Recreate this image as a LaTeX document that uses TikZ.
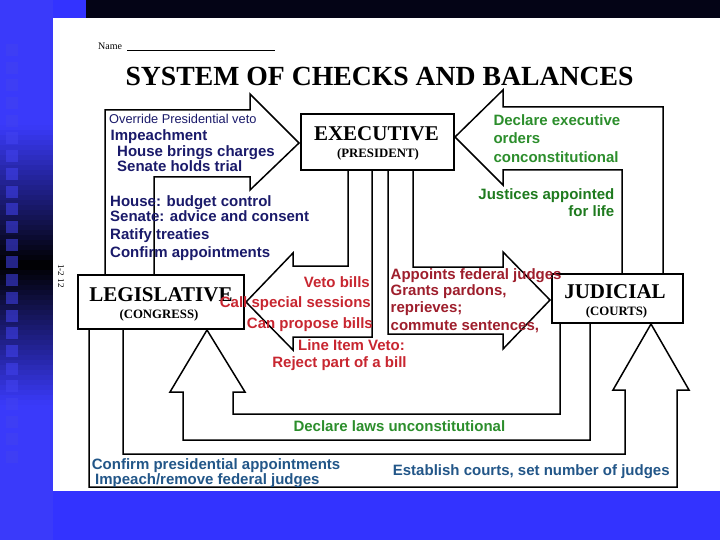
\documentclass[tikz,border=0pt]{standalone}
\usepackage{fontspec}
\setmainfont{Liberation Serif}
\newfontfamily\arialfont{Liberation Sans}
\usetikzlibrary{calc}

\definecolor{slideblue}{RGB}{51,51,255}
\definecolor{stripblue}{RGB}{58,58,250}
\definecolor{squareblue}{RGB}{66,66,240}
\definecolor{topband}{RGB}{4,4,22}
\definecolor{navytxt}{RGB}{26,26,106}
\definecolor{vetored}{RGB}{200,38,48}
\definecolor{pardonred}{RGB}{158,30,44}
\definecolor{courtgreen}{RGB}{44,142,44}
\definecolor{lifegreen}{RGB}{30,122,30}
\definecolor{tealtxt}{RGB}{34,86,136}

\tikzset{
	govbox/.style={draw=black, line width=2pt, fill=white, inner sep=0pt},
	blockarrow/.style={draw=black, line width=1.5pt, line join=miter},
	hdr/.style={font=\bfseries\fontsize{21}{24}\selectfont, anchor=base, inner sep=0pt},
	subhdr/.style={font=\bfseries\fontsize{12.8}{15}\selectfont, anchor=base, inner sep=0pt},
	power/.style={font=\arialfont\bfseries\fontsize{15}{18}\selectfont, inner sep=0pt},
}

\begin{document}
\begin{tikzpicture}[x=1pt, y=-1pt]
			%%%%% START %%%%%
			\useasboundingbox (0,0) rectangle (720,540);
			
			% slide background
			\fill[slideblue] (0,0) rectangle (720,540);
			\foreach \k in {0,...,107}{
				\pgfmathsetmacro{\shadepct}{min(100, abs(\k*5+2.5-265)/140*100)}
				\fill[stripblue!\shadepct!black] (0,\k*5) rectangle (53,\k*5+5.4);
			}
			\foreach \i in {0,...,23}
				\fill[squareblue, opacity=0.55] (6, 44+\i*17.7) rectangle +(12,12);
			\fill[topband] (86,0) rectangle (720,18);
			\fill[white] (53,18) rectangle (720,491);
			
			% header of the sheet
			\node[font=\fontsize{10}{12}\selectfont, anchor=base west, inner sep=0pt] (namelbl) at (98,50) {Name\hspace{5pt}\rule[-1pt]{148pt}{0.6pt}};
			\node[font=\bfseries\fontsize{27.7}{30}\selectfont, anchor=base, inner sep=0pt] (title) at (379.5,86) {SYSTEM OF CHECKS AND BALANCES};
			\node[rotate=-90, font=\fontsize{9}{10}\selectfont] (pagemark) at (61,276) {1-2 12};
			
			% block arrows
			\draw[blockarrow] (105,275) -- (105,110) -- (250,110) -- (250,94) -- (299,143) -- (250,190) -- (250,177) -- (154,177) -- (154,275);
			\draw[blockarrow] (348,170) -- (348,266) -- (293,266) -- (293,253) -- (246,302) -- (293,350) -- (293,337) -- (372,337) -- (372,170);
			\draw[blockarrow] (388,170) -- (388,334) -- (503,334) -- (503,349) -- (550,300) -- (503,252) -- (503,267) -- (413,267) -- (413,170);
			\draw[blockarrow] (622,274) -- (622,170) -- (503,170) -- (503,185) -- (455,137) -- (503,90) -- (503,107) -- (663,107) -- (663,274);
			\draw[blockarrow] (560,323) -- (560,414) -- (233,414) -- (233,392) -- (245,392) -- (207,330) -- (170,392) -- (183,392) -- (183,440) -- (590,440) -- (590,323);
			\draw[blockarrow] (123,329) -- (123,454) -- (625,454) -- (625,390) -- (613,390) -- (651,324) -- (689,390) -- (677,390) -- (677,487) -- (89,487) -- (89,329);
			
			% the three branches
			\node[govbox, minimum width=153pt, minimum height=56pt] (exec) at (377.5,142) {};
			\node[hdr] (exechdr) at (376.5,140.7) {EXECUTIVE};
			\node[subhdr] (execsub) at (378,157.7) {(PRESIDENT)};
			
			\node[govbox, minimum width=166pt, minimum height=54pt] (legis) at (161,302) {};
			\node[hdr] (legishdr) at (161,301.7) {LEGISLATIVE};
			\node[subhdr] (legissub) at (159,318.3) {(CONGRESS)};
			
			\node[govbox, minimum width=131pt, minimum height=49pt] (judic) at (617.5,298.5) {};
			\node[hdr] (judichdr) at (615,298.5) {JUDICIAL};
			\node[subhdr] (judicsub) at (616.5,315) {(COURTS)};
			
			% legislative over executive
			\node[font=\arialfont\fontsize{12.8}{15}\selectfont, text=navytxt, anchor=base west, inner sep=0pt] (override) at (109,124) {Override Presidential veto};
			\node[power, text=navytxt, anchor=base west] (impeach) at (110.5,141) {Impeachment};
			\node[power, text=navytxt, anchor=base west] (housech) at (117,157) {House brings charges};
			\node[power, text=navytxt, anchor=base west] (senatetr) at (117,171.5) {Senate holds trial};
			\node[power, text=navytxt, anchor=base west] (budget) at (110,206.5) {House: budget control};
			\node[power, text=navytxt, anchor=base west] (advice) at (110,221.5) {Senate: advice and consent};
			\node[power, text=navytxt, anchor=base west] (treaties) at (110,240) {Ratify treaties};
			\node[power, text=navytxt, anchor=base west] (confirm) at (110,257.5) {Confirm appointments};
			
			% executive over legislative
			\node[power, text=vetored, anchor=base east] (veto) at (370,287.3) {Veto bills};
			\node[power, text=vetored, anchor=base east] (sessions) at (371,307.7) {Call special sessions};
			\node[power, text=vetored, anchor=base east] (propose) at (373,328.3) {Can propose bills};
			\node[power, text=vetored, anchor=base] (lineitem) at (351.5,350) {Line Item Veto:};
			\node[power, text=vetored, anchor=base] (rejectpart) at (339.5,367.7) {Reject part of a bill};
			
			% executive over judicial
			\node[power, text=pardonred, anchor=base west] (appoints) at (390.5,279) {Appoints federal judges};
			\node[power, text=pardonred, anchor=base west] (pardons) at (390.5,295.3) {Grants pardons,};
			\node[power, text=pardonred, anchor=base west] (reprieves) at (390.5,312.7) {reprieves;};
			\node[power, text=pardonred, anchor=base west] (commute) at (390.5,330.7) {commute sentences,};
			
			% judicial over executive
			\node[power, text=courtgreen, anchor=base west] (declexec) at (493.3,126) {Declare executive};
			\node[power, text=courtgreen, anchor=base west] (orders) at (493.3,143.3) {orders};
			\node[power, text=courtgreen, anchor=base west] (unconst) at (493.3,162.7) {conconstitutional};
			\node[power, text=lifegreen, anchor=base east] (justices) at (614.5,200) {Justices appointed};
			\node[power, text=lifegreen, anchor=base east] (forlife) at (614.5,216.7) {for life};
			
			% judicial over legislative
			\node[power, text=courtgreen, anchor=base west] (decllaws) at (293.3,431.7) {Declare laws unconstitutional};
			
			% legislative over judicial
			\node[power, text=tealtxt, anchor=base west] (confpres) at (91.7,469.3) {Confirm presidential appointments};
			\node[power, text=tealtxt, anchor=base west] (removej) at (95,484) {Impeach/remove federal judges};
			\node[power, text=tealtxt, anchor=base west] (courts) at (392.7,475) {Establish courts, set number of judges};
			
			%%%%% END %%%%%
\end{tikzpicture}
\end{document}
